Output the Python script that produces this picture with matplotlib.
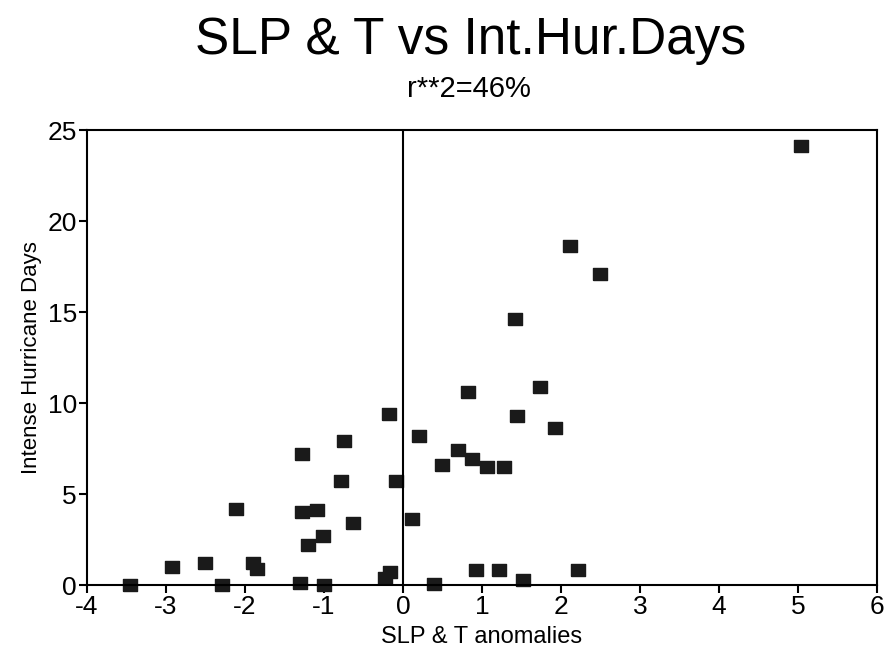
import matplotlib
matplotlib.use("Agg")
import matplotlib.pyplot as plt

# SLP & T anomaly vs intense hurricane days
anomaly = [-3.45, -2.92, -2.5, -2.29, -2.11, -1.9, -1.84, -1.3, -1.27, -1.27,
           -1.08, -1.2, -1.01, -1.0, -0.74, -0.78, -0.63, -0.17, -0.09, -0.16,
           -0.23, 1.42, 0.82, 1.73, 1.45, 0.2, 1.92, 0.7, 0.5, 0.88,
           1.07, 1.28, 0.12, 0.92, 1.22, 1.52, 2.21, 0.39, 5.04, 2.11, 2.5]
hur_days = [0.0, 1.0, 1.2, 0.0, 4.2, 1.2, 0.9, 0.1, 7.2, 4.0,
            4.1, 2.2, 2.7, 0.0, 7.9, 5.7, 3.4, 9.4, 5.7, 0.7,
            0.4, 14.6, 10.6, 10.9, 9.3, 8.2, 8.6, 7.4, 6.6, 6.9,
            6.5, 6.5, 3.6, 0.8, 0.8, 0.3, 0.8, 0.05, 24.1, 18.6, 17.1]

plt.rcParams['font.family'] = ['Liberation Sans', 'DejaVu Sans']
plt.rcParams['axes.unicode_minus'] = False

fig = plt.figure(figsize=(8.85, 6.54), dpi=100)
ax = fig.add_axes([0.098, 0.1055, 0.893, 0.6957])

box = [(-1.25, -1), (1.25, -1), (1.25, 1), (-1.25, 1), (-1.25, -1)]
ax.plot(anomaly, hur_days, linestyle='none', marker=box, markersize=10.5,
        color='#1a1a1a', clip_on=False)

ax.axvline(0, color='black', linewidth=1.5)
ax.set_xlim(-4, 6)
ax.set_ylim(0, 25)
ax.set_xticks(range(-4, 7))
ax.set_yticks([0, 5, 10, 15, 20, 25])
ax.tick_params(direction='out', length=6, width=1.5, labelsize=19, pad=1)
for s in ax.spines.values():
    s.set_linewidth(1.5)

ax.set_xlabel('SLP & T anomalies', fontsize=17, labelpad=5)
ax.set_ylabel('Intense Hurricane Days', fontsize=16, labelpad=4)

fig.text(0.532, 0.975, 'SLP & T vs Int.Hur.Days', ha='center', va='top',
         fontsize=37)
fig.text(0.53, 0.885, 'r**2=46%', ha='center', va='top', fontsize=21)

fig.savefig('out.png', dpi=100)
